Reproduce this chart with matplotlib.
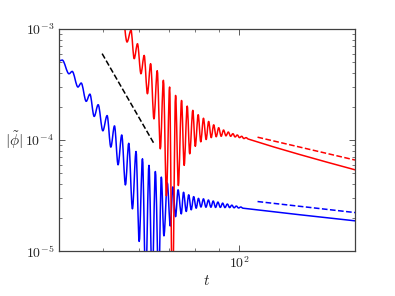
import matplotlib
matplotlib.use("Agg")
import numpy as np
import matplotlib.pyplot as plt
from matplotlib.path import Path
from matplotlib.patches import PathPatch
from matplotlib.ticker import LogLocator, NullFormatter, FixedLocator

plt.rcParams['mathtext.fontset'] = 'cm'
plt.rcParams['font.family'] = ['DejaVu Serif']

blue_t = [40.0, 40.67, 42.08, 42.78, 44.04, 44.78, 45.93, 46.80, 47.83, 48.81,
          49.98, 51.08, 52.05, 53.03, 54.00, 55.02, 56.06, 57.01, 58.09, 59.16,
          60.12, 61.13, 62.13, 63.18, 64.22, 65.27, 66.37, 67.28, 68.17, 69.35,
          70.41, 71.34, 72.33, 73.25, 74.45, 75.32, 76.35, 77.32, 78.31, 79.30,
          80.31, 81.25, 82.29, 83.34, 84.40, 85.47, 86.56, 87.57, 88.64, 89.68,
          90.82, 91.88, 92.96, 94.10, 95.20, 96.26, 97.39, 98.48, 99.63, 100.74,
          101.87, 180.0]
blue_v = [5.13e-4, 5.25e-4, 3.95e-4, 4.15e-4, 3.00e-4, 3.26e-4, 2.23e-4, 2.59e-4, 1.63e-4, 2.08e-4,
          1.21e-4, 1.66e-4, 8.63e-5, 1.34e-4, 5.98e-5, 1.11e-4, 3.94e-5, 9.34e-5, 2.40e-5, 7.88e-5,
          1.22e-5, 6.77e-5, 5.0e-6, 5.91e-5, 5.0e-6, 5.20e-5, 5.0e-6, 4.63e-5, 1.37e-5, 4.11e-5,
          1.68e-5, 3.78e-5, 2.04e-5, 3.56e-5, 2.16e-5, 3.38e-5, 2.27e-5, 3.21e-5, 2.35e-5, 3.09e-5,
          2.43e-5, 2.98e-5, 2.49e-5, 2.95e-5, 2.48e-5, 2.88e-5, 2.48e-5, 2.82e-5, 2.47e-5, 2.76e-5,
          2.47e-5, 2.70e-5, 2.46e-5, 2.65e-5, 2.46e-5, 2.59e-5, 2.45e-5, 2.54e-5, 2.44e-5, 2.49e-5,
          2.43e-5, 1.87e-5]
blue_tail_points = 2   # last points lie on the smooth power-law tail

# Red series
red_t = [55.45, 56.52, 57.67, 58.61, 59.60, 60.66, 61.66, 62.69, 63.72, 64.80,
         65.89, 66.93, 67.99, 69.04, 70.17, 71.17, 72.33, 73.36, 74.56, 75.55,
         76.74, 77.72, 78.95, 79.95, 81.13, 82.21, 83.34, 84.48, 85.56, 86.69,
         87.79, 88.91, 90.04, 91.19, 92.30, 93.43, 94.57, 95.68, 96.80, 97.88,
         98.98, 100.08, 101.21, 102.34, 103.48, 104.64, 135.4, 180.0]
red_v = [1.35e-3, 7.63e-4, 9.75e-4, 5.40e-4, 7.37e-4, 3.95e-4, 5.78e-4, 2.61e-4, 4.87e-4, 1.55e-4,
         4.21e-4, 8.33e-5, 3.45e-4, 3.14e-5, 3.00e-4, 3.0e-6, 2.52e-4, 3.89e-5, 2.27e-4, 5.91e-5,
         2.02e-4, 7.51e-5, 1.85e-4, 8.77e-5, 1.69e-4, 9.63e-5, 1.57e-4, 1.01e-4, 1.47e-4, 1.05e-4,
         1.37e-4, 1.07e-4, 1.29e-4, 1.08e-4, 1.23e-4, 1.09e-4, 1.18e-4, 1.08e-4, 1.14e-4, 1.065e-4,
         1.11e-4, 1.05e-4, 1.08e-4, 1.03e-4, 1.05e-4, 1.02e-4, 7.43e-5, 5.39e-5]
red_tail_points = 3

# Reference (dashed) power laws
black_ref_t = [49.8, 64.7]
black_ref_v = [6.0e-4, 9.4e-5]
red_ref_t = [109.7, 180.0]
red_ref_v = [1.06e-4, 6.6e-5]
blue_ref_t = [109.7, 180.0]
blue_ref_v = [2.79e-5, 2.22e-5]


def smooth_curve(ax, ts, vs, n_tail, **kw):
    """Draw a smooth curve through the read extrema (horizontal tangents
    at extrema in log-log space, secant tangents on the tail)."""
    lx = np.log10(np.asarray(ts, float))
    ly = np.log10(np.asarray(vs, float))
    n = len(lx)
    m = np.zeros(n)
    m[0] = (ly[1] - ly[0]) / (lx[1] - lx[0])
    for i in range(n - n_tail, n):
        j0 = max(i - 1, n - n_tail - 1)
        j1 = min(i + 1, n - 1)
        m[i] = (ly[j1] - ly[j0]) / (lx[j1] - lx[j0])
    verts = [(ts[0], vs[0])]
    codes = [Path.MOVETO]
    for i in range(n - 1):
        h = lx[i + 1] - lx[i]
        c1 = (10 ** (lx[i] + h / 3), 10 ** (ly[i] + m[i] * h / 3))
        c2 = (10 ** (lx[i + 1] - h / 3), 10 ** (ly[i + 1] - m[i + 1] * h / 3))
        verts += [c1, c2, (ts[i + 1], vs[i + 1])]
        codes += [Path.CURVE4] * 3
    patch = PathPatch(Path(verts, codes), fill=False, transform=ax.transData,
                      capstyle='round', joinstyle='round', **kw)
    ax.add_patch(patch)


fig = plt.figure(figsize=(3.95, 2.96), dpi=100)
ax = fig.add_axes([59/395, 1 - 251/296, 296/395, 222/296])

ax.set_xscale('log')
ax.set_yscale('log')
ax.set_xlim(40, 180)
ax.set_ylim(1e-5, 1e-3)

smooth_curve(ax, blue_t, blue_v, blue_tail_points, edgecolor=(0, 0, 1), lw=1.1)
smooth_curve(ax, red_t, red_v, red_tail_points, edgecolor=(1, 0, 0), lw=1.1)
ax.plot(black_ref_t, black_ref_v, color='k', lw=1.1, ls='--')
ax.plot(red_ref_t, red_ref_v, color=(1, 0, 0), lw=1.1, ls='--')
ax.plot(blue_ref_t, blue_ref_v, color=(0, 0, 1), lw=1.1, ls='--')

ax.xaxis.set_major_locator(FixedLocator([100]))
ax.xaxis.set_minor_locator(FixedLocator([50, 60, 70, 80, 90]))
ax.xaxis.set_minor_formatter(NullFormatter())
ax.set_xticklabels([r'$10^{2}$'])
ax.yaxis.set_major_locator(FixedLocator([1e-5, 1e-4, 1e-3]))
ax.set_yticklabels([r'$10^{-5}$', r'$10^{-4}$', r'$10^{-3}$'])
ax.yaxis.set_minor_locator(LogLocator(base=10, subs=range(2, 10)))
ax.yaxis.set_minor_formatter(NullFormatter())

axcol = '#404040'
for s in ax.spines.values():
    s.set_color(axcol)
    s.set_linewidth(0.9)
ax.tick_params(which='both', direction='in', top=True, right=True, colors=axcol,
               labelcolor='#262626', labelsize=10)
ax.tick_params(which='major', length=4, width=0.6)
ax.tick_params(which='minor', length=2, width=0.5)

ax.set_xlabel(r'$t$', fontsize=11, color='#262626', labelpad=2)
ax.set_ylabel(r'$|\tilde{\phi}|$', fontsize=11, color='#262626', rotation=0,
              ha='right', va='center')
ax.yaxis.set_label_coords(-0.122, 0.5)

fig.savefig('out.png', dpi=100)
